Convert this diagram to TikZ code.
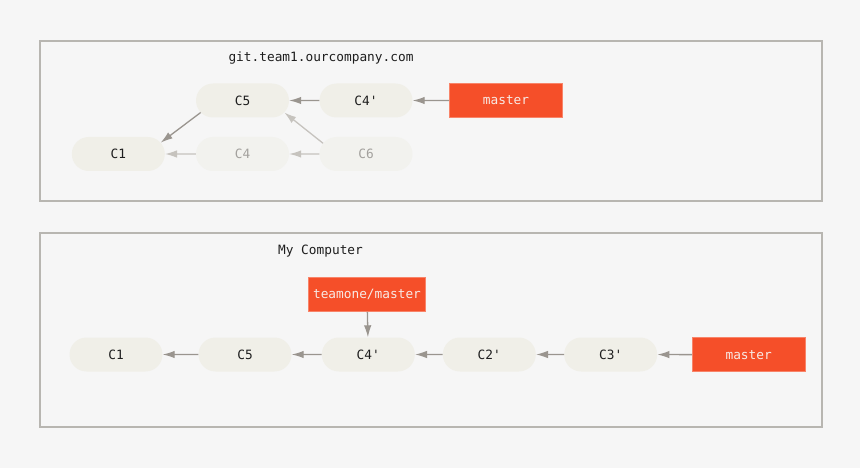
\documentclass[tikz,border=0pt]{standalone}
\usepackage{fontspec}
\setmonofont{DejaVu Sans Mono}
\usetikzlibrary{shapes.misc,arrows.meta}
\definecolor{bg}{HTML}{F6F6F6}
\definecolor{boxline}{HTML}{B8B6B1}
\definecolor{commitfill}{HTML}{F0EFE8}
\definecolor{fadefill}{HTML}{F2F2EE}
\definecolor{fadetext}{HTML}{A3A19D}
\definecolor{arrowgray}{HTML}{9A958F}
\definecolor{fadearrow}{HTML}{C6C3BE}
\definecolor{branchred}{HTML}{F54F29}
\definecolor{branchtext}{HTML}{F8EAE5}
\definecolor{txt}{HTML}{1E1E1E}
\begin{document}
\begin{tikzpicture}[x=1pt,y=-1pt,
  every node/.style={font=\fontsize{12.8}{15}\selectfont\ttfamily},
  frame/.style={draw=boxline,line width=1.4pt},
  commit/.style={rounded rectangle,fill=commitfill,minimum width=93pt,minimum height=34pt,inner sep=0pt,text=txt},
  fadecommit/.style={commit,fill=fadefill,text=fadetext},
  branch/.style={rectangle,fill=branchred,draw=branchred!70!white,line width=0.6pt,minimum height=34pt,inner sep=0pt,text=branchtext},
  title/.style={text=txt},
  link/.style={draw=arrowgray,line width=1.3pt,-{Latex[length=12pt,width=7.5pt]}},
  fadelink/.style={draw=fadearrow,line width=1.3pt,-{Latex[length=12pt,width=7.5pt]}}
]
\fill[bg] (0,0) rectangle (860,468);
\useasboundingbox (0,0) rectangle (860,468);

% top frame
\draw[frame] (40,41) rectangle (822,201);
\node[title] (t1) at (321,58) {git.team1.ourcompany.com};
\node[commit] (a5) at (242.5,100.5) {C5};
\node[commit] (a4p) at (366,100.5) {C4'};
\node[commit] (a1) at (118.3,154) {C1};
\node[fadecommit] (a4) at (242.5,154) {C4};
\node[fadecommit] (a6) at (366,154) {C6};
\node[branch,minimum width=113pt] (am) at (506,100.5) {master};
\draw[link] (a4p) -- (a5);
\draw[link] (am) -- (a4p);
\draw[link] (a5.196) -- (a1.15);
\draw[fadelink] (a4) -- (a1);
\draw[fadelink] (a6) -- (a4);
\draw[fadelink] (a6.166) -- (a5.344);

% bottom frame
\draw[frame] (40,233) rectangle (822,427);
\node[title] (t2) at (320.5,250.7) {My Computer};
\node[commit] (b1) at (116,354.5) {C1};
\node[commit] (b5) at (245,354.5) {C5};
\node[commit] (b4p) at (368.3,354.5) {C4'};
\node[commit] (b2p) at (489.3,354.5) {C2'};
\node[commit] (b3p) at (610.7,354.5) {C3'};
\node[branch,minimum width=113pt] (bm) at (748.7,354.7) {master};
\node[branch,minimum width=117pt] (bt) at (367,294.5) {teamone/master};
\draw[link] (b5) -- (b1);
\draw[link] (b4p) -- (b5);
\draw[link] (b2p) -- (b4p);
\draw[link] (b3p) -- (b2p);
\draw[link] (bm) -- (b3p);
\draw[link] (bt) -- (b4p);
\end{tikzpicture}
\end{document}
